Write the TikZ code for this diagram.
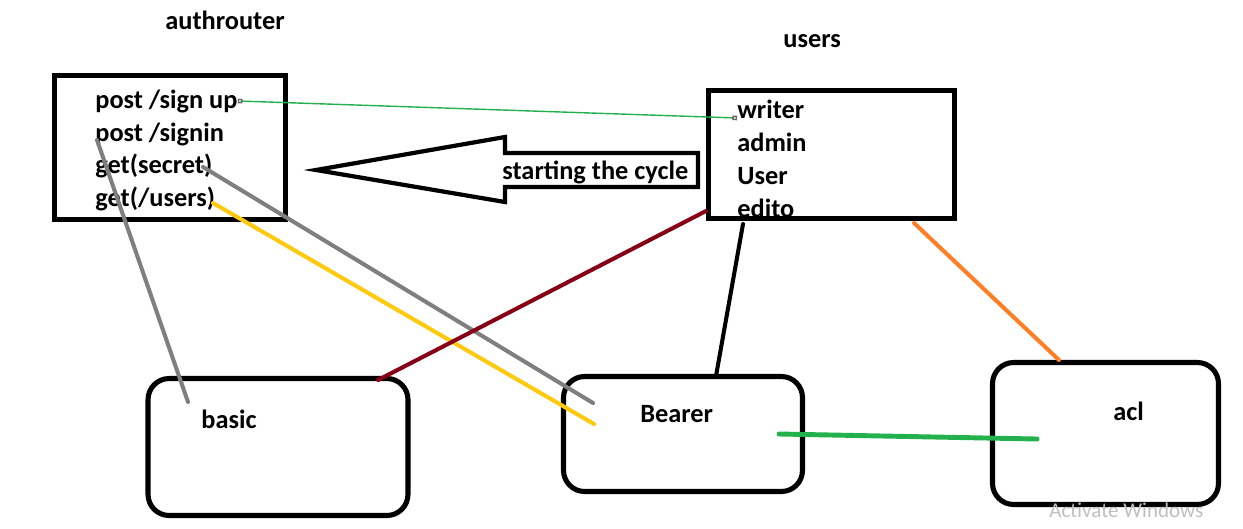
\documentclass[tikz,border=0pt]{standalone}
\usepackage{fontspec}
\setmainfont{Carlito}
\usetikzlibrary{arrows.meta}
\definecolor{paintgreen}{HTML}{22B14C}
\definecolor{paintgray}{HTML}{7F7F7F}
\definecolor{paintyellow}{HTML}{FFC90E}
\definecolor{paintred}{HTML}{880015}
\definecolor{paintorange}{HTML}{FF7F27}

\begin{document}
\begin{tikzpicture}[x=0.02cm,y=-0.02cm]
                \useasboundingbox (0,0) rectangle (1243,528);
                \begin{scope}[every node/.style={draw=black,line width=2.9pt,inner sep=0pt}]
                    \node[minimum width=4.62cm,minimum height=2.88cm] (A) at (170,147.5) {};
                    \node[minimum width=4.92cm,minimum height=2.56cm] (U) at (831.5,154.5) {};
                    \node[rounded corners=12pt,minimum width=5.2cm,minimum height=2.74cm] (Ba) at (278,447) {};
                    \node[rounded corners=12pt,minimum width=4.78cm,minimum height=2.30cm] (Be) at (683,434) {};
                    \node[rounded corners=12pt,minimum width=4.52cm,minimum height=2.84cm] (Ac) at (1105.5,433.5) {};
                \end{scope}
                \begin{scope}[every node/.style={font=\fontsize{15}{18}\selectfont\bfseries,inner sep=0pt,anchor=base west}]
                    \node (A0) at (165,29) {authrouter};
                    \node (A1) at (95,108) {post /sign up};
                    \node (A2) at (95,141) {post /signin};
                    \node (A3) at (95,173) {get(secret)};
                    \node (A4) at (95,206) {get(/users)};
                    \node (U0) at (783,47) {users};
                    \node (U1) at (737,118) {writer};
                    \node (U2) at (737,151) {admin};
                    \node (U3) at (737,184) {User};
                    \node (U4) at (737,217) {edito};
                    \node (S) at (502,179) {starting the cycle};
                    \node (Ba0) at (201,428) {basic};
                    \node (Be0) at (640,422) {Bearer};
                    \node (Ac0) at (1113,420) {acl};
                \end{scope}
                \draw[line width=2.4pt] (316,170) -- (505,137) -- (505,153) -- (698,153) -- (698,187) -- (505,187) -- (505,202) -- cycle;
                \coordinate (g1a) at (97,140);
                \coordinate (g1b) at (188,402);
                \coordinate (g2a) at (203,167);
                \coordinate (g2b) at (593,403);
                \coordinate (y1a) at (213,203);
                \coordinate (y1b) at (594,424);
                \coordinate (r1a) at (706,211);
                \coordinate (r1b) at (378,380);
                \coordinate (k1a) at (743,224);
                \coordinate (k1b) at (716,376);
                \coordinate (o1a) at (914,223);
                \coordinate (o1b) at (1059,360);
                \coordinate (e1a) at (779,434);
                \coordinate (e1b) at (1037,439);
                \begin{scope}[every edge/.style={draw,line width=2.3pt,line cap=round}]
                    \draw (A1.east) edge[paintgreen,line width=0.8pt,{Square[open,length=2.6pt,width=2.6pt,black!60]}-{Square[open,length=2.6pt,width=2.6pt,black!60]}] (U1.base west);
                    \draw (g1a) edge[paintgray] (g1b);
                    \draw (g2a) edge[paintgray] (g2b);
                    \draw (y1a) edge[paintyellow] (y1b);
                    \draw (r1a) edge[paintred] (r1b);
                    \draw (k1a) edge[black] (k1b);
                    \draw (o1a) edge[paintorange] (o1b);
                    \draw (e1a) edge[paintgreen,line width=2.8pt] (e1b);
                \end{scope}
                \node[text=black!25,font=\fontsize{12}{14}\selectfont,inner sep=0pt,anchor=base west] (W) at (1049,517) {Activate Windows};
            \end{tikzpicture}
\end{document}
